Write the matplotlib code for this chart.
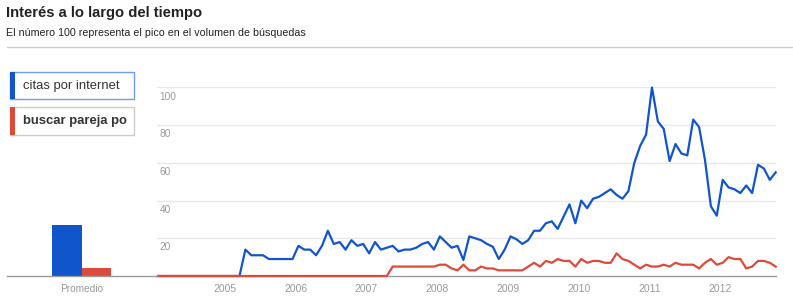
import matplotlib.pyplot as plt
from matplotlib.patches import Rectangle
from matplotlib.lines import Line2D
from matplotlib.transforms import Bbox, TransformedBbox

plt.rcParams['font.family'] = ['Liberation Sans', 'DejaVu Sans']

# monthly values, Jan 2004 .. Oct 2012
citas = [0] * 15 + [
    14, 11, 11, 11, 9, 9, 9, 9, 9,
    16, 14, 14, 11, 16, 24, 17, 18, 14, 19, 16, 17, 12,
    18, 14, 15, 16, 13, 14, 14, 15, 17, 18, 14, 21, 18, 15, 16, 8.5, 21,
    20, 19, 17, 15.5, 9, 14, 21, 19.5, 17, 19, 24, 24, 28, 29, 25, 31.5,
    38, 28, 40, 36, 41, 42, 44, 46, 43, 41, 45, 60, 69, 75, 100, 82, 78,
    61, 70, 65, 64, 83, 79, 61.5, 37, 32, 51, 47, 46, 44, 48, 44, 59, 57,
    51, 55]

pareja = [0] * 40 + [
    5, 5, 5, 5, 5, 5, 5, 5, 6, 6, 4, 3, 6, 3, 3,
    5, 4, 4, 3, 3, 3, 3, 3, 5, 7, 5, 8, 7, 9, 8, 8, 5, 9, 7, 8, 8, 7, 7,
    12, 9, 8, 6, 4, 6, 5, 5, 6, 5, 7, 6, 6, 6, 4, 7, 9, 6, 7, 10, 9, 9,
    4, 5, 8, 8, 7, 5]

years = ['2005', '2006', '2007', '2008', '2009', '2010', '2011', '2012']
year_pos = [12 * (i + 1) - 0.45 for i in range(len(years))]
y_ticks = [20, 40, 60, 80, 100]

promedio = [27, 4.4]
terms = ['citas por internet', 'buscar pareja por internet']

blue = '#1155cc'
red = '#dc4b39'
grid = '#e8e8e8'
base = '#999999'
lbl = '#999999'

W, H = 793, 297
fig = plt.figure(figsize=(W / 100, H / 100), dpi=100)


def fx(px):
    return px / W


def fy(py):
    return 1 - py / H


# header
fig.text(fx(6.5), fy(13), 'Interés a lo largo del tiempo', fontsize=10.6,
         fontweight='bold', color='#222222', va='center', ha='left')
fig.text(fx(6.5), fy(33.5), 'El número 100 representa el pico en el volumen de búsquedas',
         fontsize=7.7, color='#222222', va='center', ha='left')
fig.add_artist(Line2D([fx(7), fx(793)], [fy(46.5), fy(46.5)], color='#cccccc', lw=1))

y0, y100 = 276, 87.5

# main line chart
ax = fig.add_axes([fx(157), fy(y0), fx(775.7) - fx(157), (y0 - y100) / H])
ax.set_xlim(0, len(citas) - 1)
ax.set_ylim(0, 100)
months = list(range(len(citas)))
for v in y_ticks:
    ax.axhline(v, color=grid, lw=1, zorder=1)
    ax.text(0.45, v - 2.2, str(v), color=lbl, fontsize=7.3, va='top', ha='left')
ax.plot(months, citas, color=blue, lw=1.6, zorder=3, clip_on=False, solid_joinstyle='round')
ax.plot(months, pareja, color=red, lw=1.6, zorder=4, clip_on=False, solid_joinstyle='round')
ax.set_xticks(year_pos)
ax.set_xticklabels(years, color=lbl, fontsize=7.5)
ax.tick_params(axis='x', length=0, pad=6)
ax.set_yticks([])
for s in ['top', 'left', 'right']:
    ax.spines[s].set_visible(False)
ax.spines['bottom'].set_color(base)
ax.spines['bottom'].set_linewidth(1)

# average bars
bx = fig.add_axes([fx(7), fy(y0), fx(157) - fx(7), (y0 - y100) / H])
bx.set_xlim(-1, 1)
bx.set_ylim(0, 100)
bx.bar([-0.2, 0.195], promedio, width=0.39, color=[blue, red])
bx.set_xticks([0])
bx.set_xticklabels(['Promedio'], color=lbl, fontsize=7.3)
bx.tick_params(axis='x', length=0, pad=6)
bx.set_yticks([])
for s in ['top', 'left', 'right']:
    bx.spines[s].set_visible(False)
bx.spines['bottom'].set_color(base)
bx.spines['bottom'].set_linewidth(1)

# term boxes
boxes = [(71.7, 99.3, blue, '#6d9eeb', 'normal'), (106.7, 134.7, red, '#cccccc', 'bold')]
for term, (top, bot, c, edge, wt) in zip(terms, boxes):
    fig.add_artist(Rectangle((fx(10), fy(bot)), fx(134) - fx(10), (bot - top) / H,
                             transform=fig.transFigure, facecolor='white',
                             edgecolor=edge, lw=1))
    fig.add_artist(Rectangle((fx(10), fy(bot)), fx(5), (bot - top) / H,
                             transform=fig.transFigure, facecolor=c, edgecolor='none'))
    t = fig.text(fx(23), fy((top + bot) / 2), term, fontsize=9.4, fontweight=wt,
                 color='#333333', va='center', ha='left')
    t.set_clip_on(True)
    t.set_clip_box(TransformedBbox(Bbox.from_extents(fx(15), fy(bot), fx(126.5), fy(top)),
                                   fig.transFigure))

fig.savefig('out.png', dpi=100)
